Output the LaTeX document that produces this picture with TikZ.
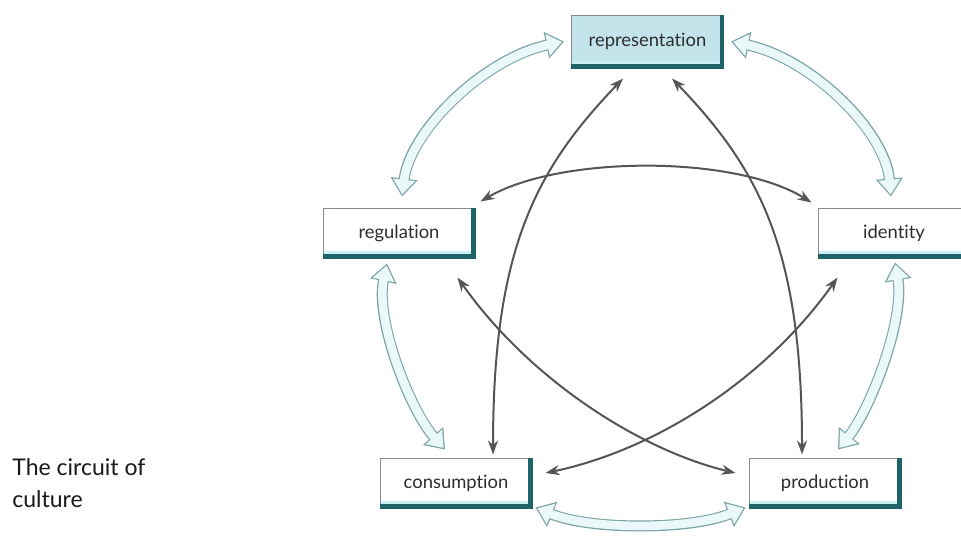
\documentclass[tikz,border=0pt]{standalone}
\usepackage{fontspec}
\setmainfont{Lato}[Ligatures=NoCommon]
\usetikzlibrary{arrows.meta,calc}
\definecolor{boxteal}{RGB}{30, 100, 105}
\definecolor{boxline}{RGB}{135, 140, 140}
\definecolor{glowcyan}{RGB}{200, 240, 245}
\definecolor{repfill}{RGB}{196, 228, 236}
\definecolor{hollowedge}{RGB}{125, 165, 165}
\definecolor{hollowfill}{RGB}{234, 248, 249}
\definecolor{linkgray}{RGB}{85, 85, 85}
\definecolor{labelgray}{RGB}{45, 45, 45}

\begin{document}
\begin{tikzpicture}[x=0.5pt, y=-0.5pt,
    stage/.style={draw=boxline, line width=0.5pt, fill=white, minimum width=76pt,
        minimum height=25pt, inner sep=0pt, text=labelgray, font=\fontsize{9.2}{11}\selectfont},
    shadowbar/.style={draw=boxteal, line width=2.2pt},
    glowbar/.style={draw=glowcyan, line width=1.2pt},
    link/.style={draw=linkgray, line width=1pt,
        {Stealth[length=7pt,width=5pt]}-{Stealth[length=7pt,width=5pt]}},
    hollowout/.style={draw=hollowedge, line width=5.5pt,
        {Triangle[length=9pt,width=13pt]}-{Triangle[length=9pt,width=13pt]}},
    hollowin/.style={draw=hollowfill, line width=4.3pt, shorten <=1.05pt, shorten >=1.05pt,
        {Triangle[length=7.35pt,width=10.6pt]}-{Triangle[length=7.35pt,width=10.6pt]}},
    caption/.style={align=left, inner sep=0pt, text=black!90, font=\fontsize{11.5}{16}\selectfont}]
    \clip (0,0) rectangle (961,538);

    % The five moments
    \node[stage, fill=repfill, minimum height=26.5pt] (rep) at (647.5,41.5) {representation};
    \node[stage] (reg) at (399,233) {regulation};
    \node[stage] (ide) at (894,233) {identity};
    \node[stage] (con) at (456,483) {consumption};
    \node[stage] (pro) at (825,483) {production};

    % Teal shadow on right and bottom
    \foreach \n in {rep,reg,ide,con,pro} {
        \draw[glowbar] ([xshift=0.5pt,yshift=3pt]\n.south west) -- ([xshift=-2pt,yshift=3pt]\n.south east);
        \draw[shadowbar] ([xshift=-1.1pt]\n.north east) -- ([xshift=-1.1pt]\n.south east);
        \draw[shadowbar] ([yshift=1.1pt]\n.south west) -- ([yshift=1.1pt]\n.south east);
    }

    % Outer circuit (hollow arrows)
    \foreach \s in {hollowout,hollowin} {
        \draw[\s] ($(reg.north)+(3,-11)$) .. controls (410,130) and (485,58) .. ($(rep.west)+(-7,0)$);
        \draw[\s] ($(rep.east)+(7,0)$) .. controls (810,58) and (885,130) .. ($(ide.north)+(-3,-11)$);
        \draw[\s] ($(reg.south)+(-12,5)$) .. controls (375,320) and (410,410) .. ($(con.north)+(-11,-8)$);
        \draw[\s] ($(ide.south)+(1,4)$) .. controls (905,320) and (870,410) .. ($(pro.north)+(13,-8)$);
        \draw[\s] ($(con.south east)+(3,-1)$) .. controls (590,530) and (690,530) .. ($(pro.south west)+(-3,-1)$);
    }

    % Inner links
    \draw[link] ($(rep.south)+(-24.5,10)$) .. controls (535,170) and (493,250) .. ($(con.north)+(37,-3)$);
    \draw[link] ($(rep.south)+(24.5,10)$) .. controls (760,170) and (802,250) .. ($(pro.north)+(-23,-3)$);
    \draw[link] ($(reg.north east)+(5,-6)$) .. controls (560,155) and (735,155) .. ($(ide.north west)+(-6,-5)$);
    \draw[link] ($(reg.south east)+(-18,19)$) .. controls (530,380) and (640,450) .. ($(pro.west)+(-13,-10)$);
    \draw[link] ($(ide.south west)+(20,19)$) .. controls (765,380) and (655,450) .. ($(con.east)+(13,-10)$);

    \node[caption, anchor=north west] (title) at (12,458) {The circuit of\\culture};
\end{tikzpicture}
\end{document}
